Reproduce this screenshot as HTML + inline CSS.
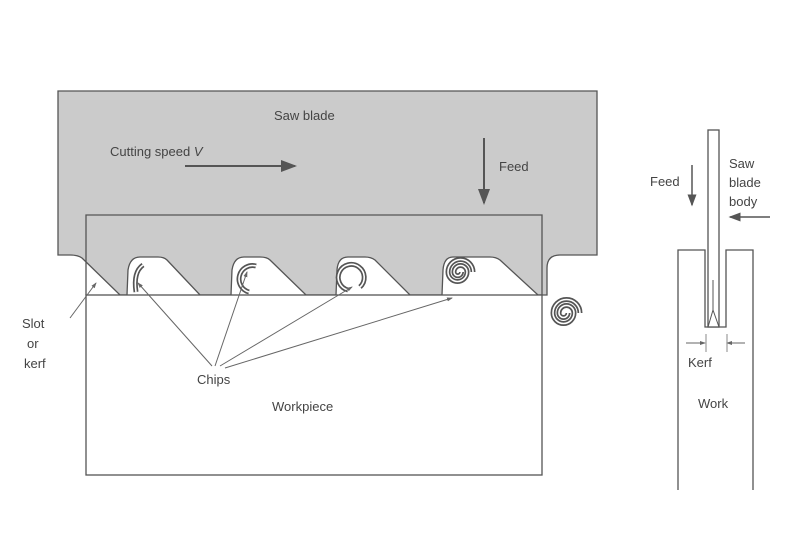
<!DOCTYPE html>
<html><head><style>
body{margin:0;background:#fff}
svg{display:block}
text{font-family:"Liberation Sans",sans-serif;font-size:13px;fill:#444}
</style></head><body>
<svg width="800" height="550" viewBox="0 0 800 550">
<defs><marker id="a" markerWidth="8" markerHeight="8" refX="7" refY="4" orient="auto"><path d="M0,1 L8,4 L0,7 z" fill="#555"/></marker>
<marker id="s" markerWidth="6" markerHeight="6" refX="5" refY="3" orient="auto"><path d="M0,1 L6,3 L0,5 z" fill="#666"/></marker></defs>
<!-- blade -->
<path d="M58,91 L597,91 L597,255 L560,255 Q547,255 547,268 L547,295 L538,295 L500,260 Q496,257 490,257 L453,257 Q444,257 443,270 L442,295 L410,295 L375,260 Q371,257 365,257 L348,257 Q338,257 337,270 L336,295 L306,295 L270,260 Q267,257 260,257 L244,257 Q234,257 232,270 L231,295 L200,295 L167,260 Q164,257 158,257 L140,257 Q130,257 128,270 L127,295 L120,295 L82,258 Q78,255 70,255 L58,255 Z" fill="#cbcbcb" stroke="#555" stroke-width="1.3"/>
<rect x="86" y="295" width="456" height="180" fill="#fff" stroke="#555" stroke-width="1.3"/>
<path d="M86,295 L86,215 L542,215 L542,295" fill="none" stroke="#555" stroke-width="1.3"/>
<!-- chips -->
<g fill="none" stroke-linecap="butt">
<g stroke="#555" stroke-width="5">
<path d="M143,265 Q133,272 136,292"/>
<path d="M256,266 A11,11 0 1 0 249,292"/>
<path d="M360,287 A13,13 0 1 0 348,290"/>
<path d="M473,272 A12.5,12.5 0 0 0 448,272 A9.5,9.5 0 0 0 467,272 A6.5,6.5 0 0 0 454,272 A3.75,3.75 0 0 0 461.5,272"/>
<path d="M580,313 A13.5,13.5 0 0 0 553,313 A10.5,10.5 0 0 0 574,313 A7.5,7.5 0 0 0 559,313 A4.5,4.5 0 0 0 568,313"/>
</g>
<g stroke="#fff" stroke-width="1.6">
<path d="M143,265 Q133,272 136,292"/>
<path d="M256,266 A11,11 0 1 0 249,292"/>
<path d="M360,287 A13,13 0 1 0 348,290"/>
<path d="M473,272 A12.5,12.5 0 0 0 448,272 A9.5,9.5 0 0 0 467,272 A6.5,6.5 0 0 0 454,272 A3.75,3.75 0 0 0 461.5,272"/>
<path d="M580,313 A13.5,13.5 0 0 0 553,313 A10.5,10.5 0 0 0 574,313 A7.5,7.5 0 0 0 559,313 A4.5,4.5 0 0 0 568,313"/>
</g>
</g>
<!-- arrows -->
<line x1="185" y1="166" x2="295" y2="166" stroke="#555" stroke-width="2" marker-end="url(#a)"/>
<line x1="484" y1="138" x2="484" y2="203" stroke="#555" stroke-width="2" marker-end="url(#a)"/>
<g stroke="#666" stroke-width="1" marker-end="url(#s)">
<line x1="70" y1="318" x2="96" y2="283"/>
<line x1="212" y1="366" x2="138" y2="283"/>
<line x1="215" y1="366" x2="247" y2="272"/>
<line x1="220" y1="366" x2="352" y2="287"/>
<line x1="225" y1="368" x2="452" y2="298"/>
</g>
<text x="274" y="120">Saw blade</text>
<text x="110" y="156">Cutting speed <tspan font-style="italic">V</tspan></text>
<text x="499" y="171">Feed</text>
<text x="22" y="328">Slot</text>
<text x="27" y="348">or</text>
<text x="24" y="368">kerf</text>
<text x="197" y="384">Chips</text>
<text x="272" y="411">Workpiece</text>
<!-- right diagram -->
<path d="M678,490 L678,250 L705,250 L705,327 L726,327 L726,250 L753,250 L753,490" fill="none" stroke="#555" stroke-width="1.3"/>
<rect x="708" y="130" width="11" height="197" fill="#fff" stroke="#555" stroke-width="1.3"/>
<path d="M708,327 L713,310 L719,327 M713,310 L713,280" fill="none" stroke="#555" stroke-width="1"/>
<line x1="692" y1="165" x2="692" y2="205" stroke="#555" stroke-width="1.5" marker-end="url(#a)"/>
<line x1="770" y1="217" x2="730" y2="217" stroke="#555" stroke-width="1.5" marker-end="url(#a)"/>
<line x1="686" y1="343" x2="705" y2="343" stroke="#666" stroke-width="1" marker-end="url(#s)"/>
<line x1="745" y1="343" x2="727" y2="343" stroke="#666" stroke-width="1" marker-end="url(#s)"/>
<line x1="706" y1="334" x2="706" y2="352" stroke="#888" stroke-width="1"/>
<line x1="727" y1="334" x2="727" y2="352" stroke="#888" stroke-width="1"/>
<text x="650" y="186">Feed</text>
<text x="729" y="168">Saw</text>
<text x="729" y="187">blade</text>
<text x="729" y="206">body</text>
<text x="688" y="367">Kerf</text>
<text x="698" y="408">Work</text>
</svg>
</body></html>
